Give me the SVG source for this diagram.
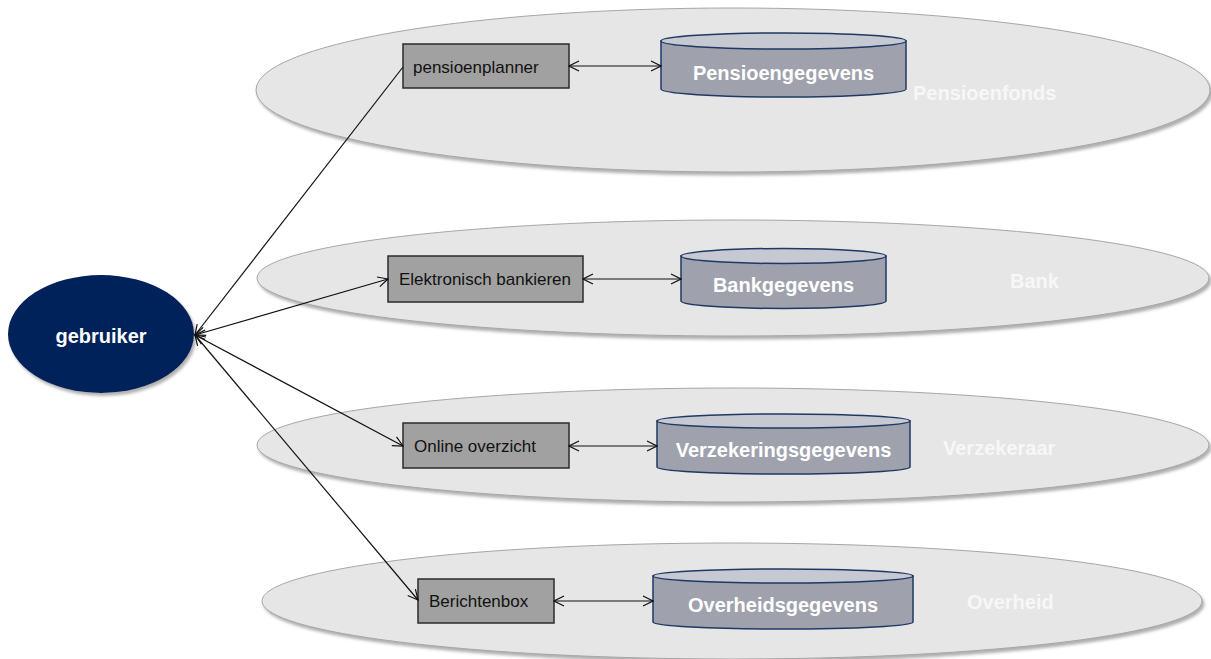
<svg xmlns="http://www.w3.org/2000/svg" width="1211" height="659" viewBox="0 0 1211 659">
<style>
.zone{fill:#e6e6e6;stroke:#a6a6a6;stroke-width:1;filter:url(#sh)}
.zlabel{font-family:"Liberation Sans",Arial,sans-serif;font-size:20px;font-weight:bold;fill:#f7f7f7}
.box{fill:#a1a1a1;stroke:#2b2b2b;stroke-width:1.5}
.btext{font-family:"Liberation Sans",Arial,sans-serif;font-size:17px;fill:#111}
.cylb{fill:#9fa2ad;stroke:#1f3864;stroke-width:1.5}
.cylt{fill:#c6c9d1;stroke:#1f3864;stroke-width:1.5}
.ctext{font-family:"Liberation Sans",Arial,sans-serif;font-size:20px;font-weight:bold;fill:#fff;text-anchor:middle}
.conn{stroke:#111;stroke-width:1.2;fill:none}
</style>
<defs>
<filter id="sh" x="-5%" y="-10%" width="110%" height="125%">
<feDropShadow dx="2" dy="3" stdDeviation="1.5" flood-color="#7a7a7a" flood-opacity="0.6"/>
</filter>
<marker id="ah" viewBox="0 0 12 12" refX="11" refY="6" markerWidth="12" markerHeight="12" markerUnits="userSpaceOnUse" orient="auto-start-reverse">
<path d="M1,1 L11,6 L1,11" fill="none" stroke="#111" stroke-width="1.2"/>
</marker>
</defs>

<g id="zone-pensioenfonds">
<ellipse class="zone" cx="733" cy="90" rx="477" ry="82"/>
<text class="zlabel" x="913" y="100">Pensioenfonds</text>
</g>
<g id="zone-bank">
<ellipse class="zone" cx="733" cy="278" rx="476" ry="58"/>
<text class="zlabel" x="1010" y="288">Bank</text>
</g>
<g id="zone-verzekeraar">
<ellipse class="zone" cx="733" cy="445" rx="476" ry="57"/>
<text class="zlabel" x="943" y="455">Verzekeraar</text>
</g>
<g id="zone-overheid">
<ellipse class="zone" cx="732" cy="601" rx="470" ry="58"/>
<text class="zlabel" x="967" y="609">Overheid</text>
</g>

<g id="gebruiker">
<ellipse cx="101" cy="334" rx="93" ry="59" fill="#02225a" filter="url(#sh)"/>
<text x="101" y="343" class="ctext">gebruiker</text>
</g>

<g id="pensioenplanner">
<rect class="box" x="403" y="44" width="166" height="44"/>
<text class="btext" x="413" y="73">pensioenplanner</text>
</g>
<g id="elektronisch-bankieren">
<rect class="box" x="388" y="256" width="195" height="46"/>
<text class="btext" x="399" y="285">Elektronisch bankieren</text>
</g>
<g id="online-overzicht">
<rect class="box" x="403" y="423" width="166" height="45"/>
<text class="btext" x="414" y="452">Online overzicht</text>
</g>
<g id="berichtenbox">
<rect class="box" x="418" y="579" width="136" height="44"/>
<text class="btext" x="429" y="607">Berichtenbox</text>
</g>

<g id="pensioengegevens">
<path class="cylb" d="M661,41 L661,89 A122.5,8 0 0 0 906,89 L906,41 Z"/>
<ellipse class="cylt" cx="783.5" cy="41" rx="122.5" ry="8"/>
<text class="ctext" x="783.5" y="80">Pensioengegevens</text>
</g>
<g id="bankgegevens">
<path class="cylb" d="M681,256 L681,301 A102.5,7.5 0 0 0 886,301 L886,256 Z"/>
<ellipse class="cylt" cx="783.5" cy="256" rx="102.5" ry="7.5"/>
<text class="ctext" x="783.5" y="292">Bankgegevens</text>
</g>
<g id="verzekeringsgegevens">
<path class="cylb" d="M657,421 L657,467 A126.5,7 0 0 0 910,467 L910,421 Z"/>
<ellipse class="cylt" cx="783.5" cy="421" rx="126.5" ry="7"/>
<text class="ctext" x="783.5" y="457">Verzekeringsgegevens</text>
</g>
<g id="overheidsgegevens">
<path class="cylb" d="M653,576 L653,622 A130,7 0 0 0 913,622 L913,576 Z"/>
<ellipse class="cylt" cx="783" cy="576" rx="130" ry="7"/>
<text class="ctext" x="783" y="612">Overheidsgegevens</text>
</g>

<g id="connectors">
<line class="conn" x1="403" y1="67" x2="195" y2="335" marker-end="url(#ah)"/>
<line class="conn" x1="195" y1="335" x2="388" y2="279" marker-start="url(#ah)" marker-end="url(#ah)"/>
<line class="conn" x1="195" y1="335" x2="403" y2="446" marker-start="url(#ah)" marker-end="url(#ah)"/>
<line class="conn" x1="195" y1="335" x2="418" y2="600" marker-start="url(#ah)" marker-end="url(#ah)"/>
<line class="conn" x1="569" y1="66" x2="661" y2="66" marker-start="url(#ah)" marker-end="url(#ah)"/>
<line class="conn" x1="583" y1="279" x2="681" y2="279" marker-start="url(#ah)" marker-end="url(#ah)"/>
<line class="conn" x1="569" y1="446" x2="657" y2="446" marker-start="url(#ah)" marker-end="url(#ah)"/>
<line class="conn" x1="554" y1="601" x2="653" y2="601" marker-start="url(#ah)" marker-end="url(#ah)"/>
</g>
</svg>
